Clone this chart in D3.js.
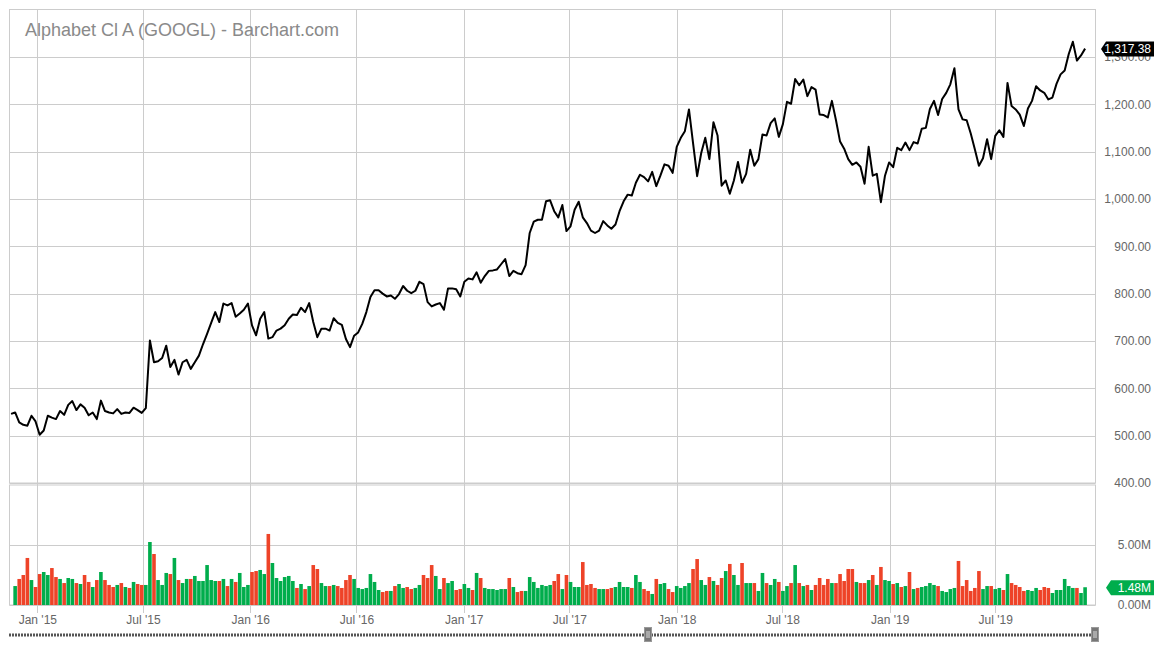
<!DOCTYPE html>
<html>
<head>
<meta charset="utf-8">
<script src="https://cdn.jsdelivr.net/npm/d3@7"></script>
<style>
  body { margin: 0; background: #fff; }
  svg { display: block; font-family: Arial, "Liberation Sans", sans-serif; }
</style>
</head>
<body>
<svg id="chart" width="1156" height="650"></svg>
<script>
var title = "Alphabet Cl A (GOOGL) - Barchart.com";

// weekly closes, week of Nov 17 2014 .. week of Dec 2 2019
var closes = [
  546, 549, 528, 523, 521, 542, 530, 502, 511, 542,
  538, 535, 552, 544, 565, 573, 554, 566, 559, 543,
  549, 535, 574, 552, 549, 547, 556, 546, 549, 548,
  559, 554, 548, 558, 701, 655, 657, 664, 690, 645,
  660, 629, 655, 660, 641, 655, 669, 693, 715, 738,
  761, 740, 779, 775, 780, 751, 758, 766, 779, 733,
  712, 747, 761, 705, 708, 722, 726, 733, 747, 756,
  755, 770, 761, 780, 740, 708, 726, 726, 722, 748,
  738, 734, 704, 687, 711, 718, 736, 761, 793, 807,
  807, 800, 794, 796, 789, 799, 816, 806, 801, 806,
  825, 820, 782, 773, 777, 780, 766, 811, 811, 809,
  794, 825, 832, 830, 845, 823, 837, 848, 849, 851,
  862, 873, 837, 848, 843, 841, 860, 928, 952, 956,
  956, 995, 997, 974, 961, 987, 932, 942, 977, 994,
  961, 949, 933, 928, 933, 953, 944, 937, 946, 974,
  995, 1009, 1007, 1034, 1051, 1046, 1037, 1057, 1027, 1049,
  1073, 1070, 1055, 1110, 1129, 1143, 1189, 1118, 1048, 1097,
  1129, 1084, 1162, 1134, 1028, 1039, 1011, 1039, 1078, 1034,
  1053, 1104, 1070, 1084, 1136, 1134, 1160, 1170, 1131, 1158,
  1205, 1201, 1253, 1240, 1252, 1217, 1236, 1231, 1178, 1177,
  1172, 1207, 1166, 1121, 1106, 1084, 1072, 1077, 1068, 1032,
  1110, 1049, 1053, 993, 1049, 1077, 1067, 1108, 1103, 1119,
  1103, 1120, 1117, 1148, 1150, 1190, 1207, 1177, 1211, 1224,
  1242, 1276, 1189, 1168, 1166, 1138, 1105, 1070, 1086, 1126,
  1084, 1133, 1145, 1131, 1245, 1196, 1189, 1178, 1154, 1191,
  1207, 1238, 1229, 1224, 1210, 1214, 1243, 1263, 1271, 1306,
  1332, 1292, 1303, 1317.38
];

// weekly volume in millions, from the second week on (first week has no bar)
var volumes = [
  1.58, 2.17, 2.5, 3.92, 2.08, 1.5, 2.58, 2.75, 2.5, 3.08,
  2.33, 2.17, 1.83, 2.25, 2.17, 1.83, 1.75, 2.5, 1.92, 1.5,
  2.08, 2.75, 2.08, 1.67, 1.5, 1.67, 1.83, 1.5, 1.42, 1.92,
  1.75, 1.67, 1.67, 5.25, 4.25, 2.08, 1.67, 2.67, 2.58, 3.92,
  2.08, 1.83, 2.17, 2.17, 2.42, 2.0, 2.0, 3.33, 2.08, 2.0,
  2.0, 2.17, 1.58, 2.17, 1.92, 2.67, 1.5, 1.67, 2.75, 2.83,
  2.92, 2.58, 5.92, 3.5, 2.25, 2.0, 2.33, 2.42, 2.0, 1.42,
  1.75, 1.33, 1.58, 3.33, 3.0, 1.83, 1.58, 1.58, 1.67, 1.58,
  1.42, 2.08, 2.5, 2.17, 1.42, 1.33, 1.42, 2.58, 1.92, 1.25,
  1.08, 1.17, 1.17, 1.58, 1.75, 1.42, 1.5, 1.33, 1.42, 1.67,
  2.5, 2.25, 3.33, 2.42, 1.33, 2.25, 1.83, 2.0, 1.25, 1.33,
  1.75, 1.42, 1.25, 2.67, 2.25, 1.42, 1.33, 1.33, 1.25, 1.33,
  1.33, 2.25, 1.5, 1.08, 1.17, 1.17, 2.33, 1.92, 1.42, 1.67,
  1.58, 1.67, 2.0, 2.58, 1.33, 2.5, 1.92, 1.5, 1.5, 3.58,
  1.67, 1.75, 1.42, 1.33, 1.33, 1.33, 1.42, 1.5, 1.92, 1.5,
  1.5, 1.42, 2.5, 1.92, 1.33, 1.17, 0.92, 2.17, 1.75, 1.83,
  1.33, 1.08, 1.58, 1.42, 1.58, 1.83, 3.0, 3.83, 2.08, 1.67,
  2.33, 2.0, 1.67, 2.25, 2.83, 3.42, 2.5, 1.67, 3.5, 1.83,
  1.83, 1.83, 1.17, 2.67, 1.83, 1.67, 2.17, 1.92, 1.17, 1.58,
  1.83, 3.33, 1.83, 1.58, 1.67, 1.25, 1.67, 2.25, 1.67, 2.17,
  1.83, 1.83, 2.58, 2.0, 3.0, 3.0, 1.92, 1.83, 1.83, 2.08,
  2.5, 1.67, 3.17, 2.08, 2.0, 1.75, 1.83, 1.5, 1.58, 2.75,
  1.33, 1.42, 1.5, 1.58, 1.83, 1.67, 1.58, 1.17, 1.08, 1.33,
  1.42, 3.67, 1.58, 2.08, 1.17, 1.42, 2.83, 1.33, 1.58, 1.58,
  1.33, 1.42, 1.25, 2.58, 1.83, 1.67, 1.5, 1.17, 1.25, 1.17,
  1.42, 1.25, 1.5, 1.42, 1.0, 1.25, 1.25, 2.17, 1.58, 1.42,
  1.42, 1.0, 1.48
];

var priceTicks = [400, 500, 600, 700, 800, 900, 1000, 1100, 1200, 1300];
var volumeTicks = [0, 5];
var dateTicks = d3.timeMonths(new Date(2015, 0, 1), new Date(2019, 11, 1), 6);

var weeks = d3.timeMonday.range(new Date(2014, 10, 17), new Date(2019, 11, 3));

var left = 9.5, right = 1095.5;
var priceTop = 9.5, priceBottom = 483;
var volTop = 485, volBottom = 605;
var grid = "#cccccc", labelColor = "#666666";
var upColor = "#00ad4c", downColor = "#ee4328";

var svg = d3.select("#chart");

var x = d3.scaleTime()
    .domain([new Date(2014, 10, 14, 8), new Date(2019, 11, 19, 20)])
    .range([left, right]);
var y = d3.scaleLinear().domain([400, 1400]).range([priceBottom, priceTop]);
var yv = d3.scaleLinear().domain([0, 10]).range([volBottom, volTop]);

// panel frames
svg.append("rect").attr("x", left).attr("y", priceTop)
    .attr("width", right - left).attr("height", priceBottom - priceTop)
    .attr("fill", "none").attr("stroke", grid);
svg.append("rect").attr("x", left).attr("y", volTop)
    .attr("width", right - left).attr("height", volBottom - volTop)
    .attr("fill", "none").attr("stroke", grid);

// horizontal gridlines
svg.append("g").selectAll("line").data(priceTicks).enter().append("line")
    .attr("x1", left).attr("x2", right)
    .attr("y1", function(d){ return Math.round(y(d)) + 0.5; })
    .attr("y2", function(d){ return Math.round(y(d)) + 0.5; })
    .attr("stroke", grid);
svg.append("g").selectAll("line").data(volumeTicks).enter().append("line")
    .attr("x1", left).attr("x2", right)
    .attr("y1", function(d){ return Math.round(yv(d)) + 0.5; })
    .attr("y2", function(d){ return Math.round(yv(d)) + 0.5; })
    .attr("stroke", grid);

// vertical gridlines, running down past the volume panel as ticks
svg.append("g").selectAll("line").data(dateTicks).enter().append("line")
    .attr("x1", function(d){ return Math.round(x(d)) + 0.5; })
    .attr("x2", function(d){ return Math.round(x(d)) + 0.5; })
    .attr("y1", priceTop).attr("y2", volBottom + 8)
    .attr("stroke", grid);

// volume bars
var bars = weeks.slice(1).map(function(d, i){
    return { date: d, vol: volumes[i], up: closes[i + 1] >= closes[i] };
});
var bw = 3.6;
svg.append("g").selectAll("rect").data(bars).enter().append("rect")
    .attr("x", function(d){ return x(d.date) - bw / 2; })
    .attr("y", function(d){ return yv(d.vol); })
    .attr("width", bw)
    .attr("height", function(d){ return volBottom - yv(d.vol); })
    .attr("fill", function(d){ return d.up ? upColor : downColor; });

// price line
var line = d3.line()
    .x(function(d, i){ return x(weeks[i]); })
    .y(function(d){ return y(d); });
svg.append("path").datum(closes)
    .attr("d", line)
    .attr("fill", "none")
    .attr("stroke", "#000")
    .attr("stroke-width", 2)
    .attr("stroke-linejoin", "round");

// title
svg.append("text").attr("x", 25).attr("y", 36)
    .attr("fill", "#8a8a8a").style("font-size", "18px")
    .text(title);

// right axes
function styleAxis(g) {
    g.select(".domain").remove();
    g.attr("font-family", null).attr("font-size", null);
    g.selectAll("text")
        .attr("text-anchor", "end")
        .attr("fill", labelColor)
        .style("font-size", "12px");
}
svg.append("g").attr("transform", "translate(1151,0)")
    .call(d3.axisRight(y).tickValues(priceTicks).tickFormat(d3.format(",.2f"))
        .tickSize(0).tickPadding(0))
    .call(styleAxis);
svg.append("g").attr("transform", "translate(1151,0)")
    .call(d3.axisRight(yv).tickValues(volumeTicks)
        .tickFormat(function(d){ return d.toFixed(2) + "M"; })
        .tickSize(0).tickPadding(0))
    .call(styleAxis);

// date axis
svg.append("g").attr("transform", "translate(0," + volBottom + ")")
    .call(d3.axisBottom(x).tickValues(dateTicks).tickFormat(d3.timeFormat("%b '%y"))
        .tickSize(0).tickPadding(10))
    .call(function(g){
        g.select(".domain").remove();
        g.attr("font-family", null).attr("font-size", null);
        g.selectAll("text").attr("fill", labelColor).style("font-size", "12px");
    });

// last value tags
function tag(yc, tip, body, color, label) {
    var h = 7.5;
    svg.append("path")
        .attr("d", "M" + tip + "," + yc + "L" + body + "," + (yc - h) + "L1154," + (yc - h) +
              "L1154," + (yc + h) + "L" + body + "," + (yc + h) + "Z")
        .attr("fill", color);
    svg.append("text").attr("x", 1151).attr("y", yc).attr("dy", "0.35em")
        .attr("text-anchor", "end").attr("fill", "#fff")
        .style("font-size", "12px")
        .text(label);
}
var lastClose = closes[closes.length - 1];
var lastVol = volumes[volumes.length - 1];
tag(y(lastClose) + 0.5, 1101, 1106, "#000", d3.format(",.2f")(lastClose));
tag(yv(lastVol) + 0.5, 1106, 1111, upColor, lastVol.toFixed(2) + "M");

// navigator strip at the bottom
svg.append("line").attr("x1", 9).attr("x2", 1095)
    .attr("y1", 635).attr("y2", 635)
    .attr("stroke", "#555").attr("stroke-width", 3)
    .attr("stroke-dasharray", "2,1");
[644, 1091].forEach(function(hx){
    svg.append("rect").attr("x", hx + 0.5).attr("y", 627.5)
        .attr("width", 7).attr("height", 14)
        .attr("fill", "#777").attr("stroke", "#999");
    [hx + 3, hx + 5].forEach(function(lx){
        svg.append("line").attr("x1", lx).attr("x2", lx)
            .attr("y1", 631).attr("y2", 638)
            .attr("stroke", "#ddd").attr("stroke-width", 1);
    });
});
</script>
</body>
</html>
